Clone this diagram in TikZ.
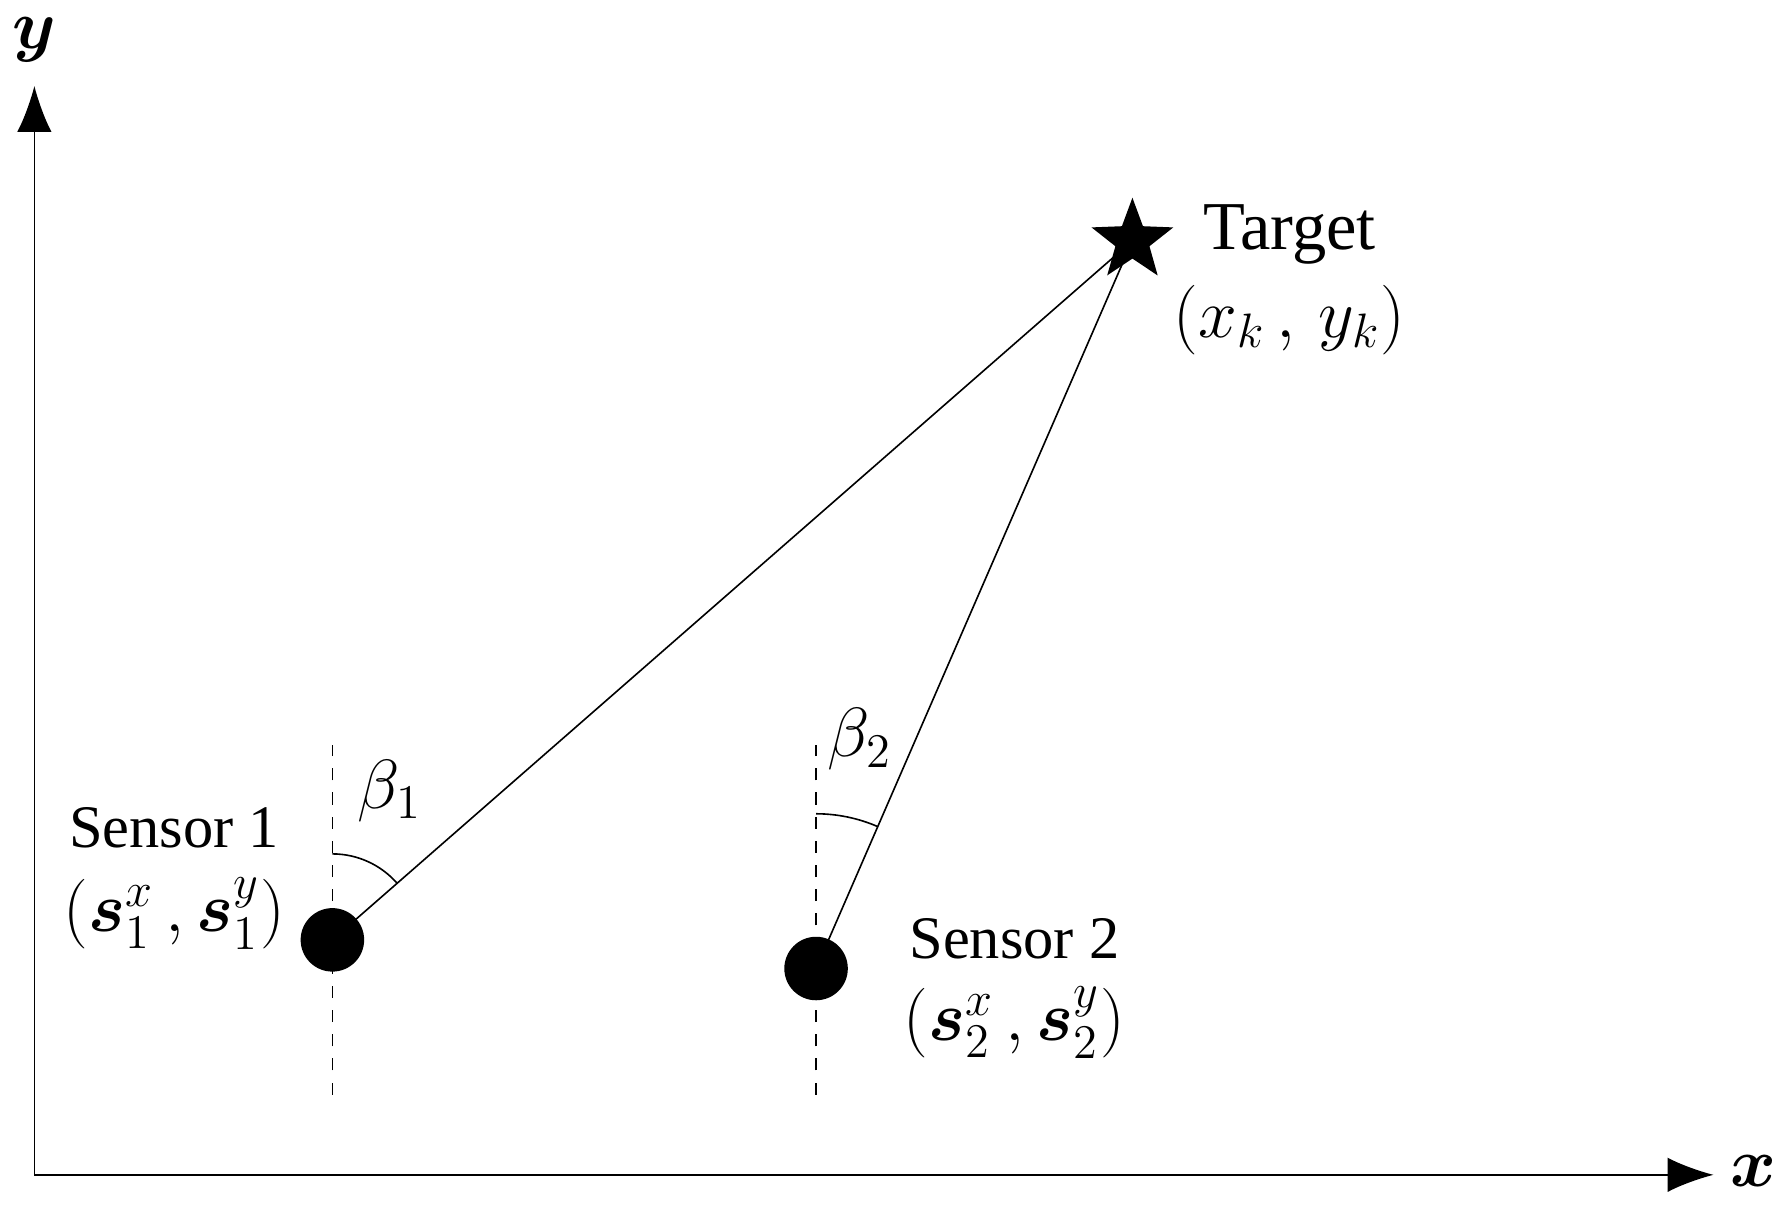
\documentclass[tikz,border=0pt]{standalone}
\usepackage{amsmath}
\usepackage{amssymb}
\usepackage{bm}
\usepackage{fontspec}
\setmainfont{Liberation Serif}
\usetikzlibrary{arrows.meta,shapes.geometric,angles}

\begin{document}
\begin{tikzpicture}[thin, lbl/.style = {font=\fontsize{17}{20}\selectfont},
  sensor/.style = {draw, circle, fill=black, minimum size=5.4mm, inner sep=0pt},
  guide/.style = {dashed}]
\useasboundingbox (0,0) rectangle (15.6,10.67);
\coordinate (o) at (0.30,0.42);
\coordinate (xend) at (14.95,0.42);
\coordinate (yend) at (0.30,9.92);
\draw[-{Latex[length=4mm,width=3mm]}] (o) -- (xend);
\draw[-{Latex[length=4mm,width=3mm]}] (o) -- (yend);
\node[lbl] (xl) at (15.30,0.45) {$\boldsymbol{x}$};
\node[lbl] (yl) at (0.30,10.32) {$\boldsymbol{y}$};
\node[sensor] (s1) at (2.90,2.47) {};
\node[sensor] (s2) at (7.12,2.22) {};
\node[star, star points=5, star point ratio=2.4, fill=black, minimum size=7.5mm, inner sep=0pt] (tgt) at (9.88,8.57) {};
\coordinate (t1) at (2.90,4.17); \coordinate (b1) at (2.90,1.12);
\coordinate (t2) at (7.12,4.17); \coordinate (b2) at (7.12,1.12);
\draw[guide] (b1) -- (t1);
\draw[guide] (b2) -- (t2);
\draw (s1.center) -- (tgt.center);
\draw (s2.center) -- (tgt.center);
\pic[draw, angle radius=7.5mm] {angle = tgt--s1--t1};
\pic[draw, angle radius=13.5mm] {angle = tgt--s2--t2};
\node[lbl] (b1l) at (3.40,3.77) {$\beta_1$};
\node[lbl] (b2l) at (7.50,4.22) {$\beta_2$};
\node[lbl] (tl) at (11.25,8.62) {Target};
\node[lbl] (tc) at (11.25,7.88) {$(x_k\,,\,y_k)$};
\node[font=\fontsize{15}{18}\selectfont] (s1l) at (1.52,3.45) {Sensor 1};
\node[lbl] (s1c) at (1.52,2.70) {$(\boldsymbol{s}_1^x\,,\boldsymbol{s}_1^y)$};
\node[font=\fontsize{15}{18}\selectfont] (s2l) at (8.85,2.48) {Sensor 2};
\node[lbl] (s2c) at (8.85,1.75) {$(\boldsymbol{s}_2^x\,,\boldsymbol{s}_2^y)$};
\end{tikzpicture}
\end{document}
